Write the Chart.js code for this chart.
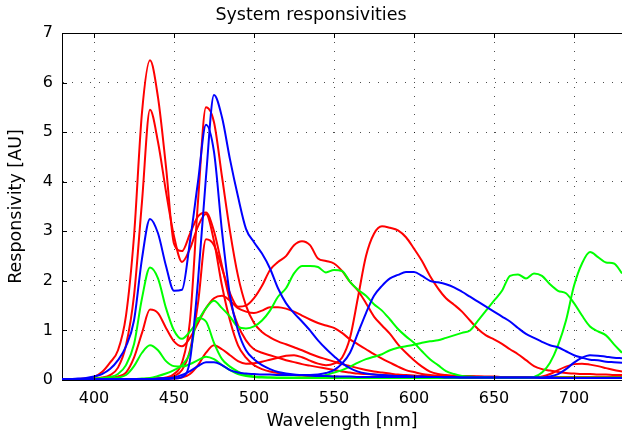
<!DOCTYPE html>
<html>
<head>
<meta charset="utf-8">
<script src="https://cdn.jsdelivr.net/npm/chart.js@4/dist/chart.umd.min.js"></script>
<style>
  body { margin: 0; background: #fff; }
  canvas { display: block; }
</style>
</head>
<body>
<canvas id="chart" width="622" height="435"></canvas>
<script>
// Wavelength grid (nm)
const wavelengths = [
  380, 385, 390, 395, 400, 405, 410, 415, 420, 425,
  430, 435, 440, 445, 450, 455, 460, 465, 470, 475,
  480, 485, 490, 495, 500, 505, 510, 515, 520, 525,
  530, 535, 540, 545, 550, 555, 560, 565, 570, 575,
  580, 585, 590, 595, 600, 605, 610, 615, 620, 625,
  630, 635, 640, 645, 650, 655, 660, 665, 670, 675,
  680, 685, 690, 695, 700, 705, 710, 715, 720, 725,
  730
];

const xTicks = [400, 450, 500, 550, 600, 650, 700];
const yTicks = [0, 1, 2, 3, 4, 5, 6, 7];

// Red channel responsivities
const red1 = [
  0.02, 0.02, 0.02, 0.03, 0.06, 0.16, 0.35, 0.6, 1.3, 2.9,
  5.4, 6.45, 5.7, 4.3, 2.75, 2.6, 2.95, 3.3, 3.38, 3.0,
  2.3, 1.6, 1.1, 0.8, 0.62, 0.55, 0.5, 0.45, 0.4, 0.36,
  0.32, 0.29, 0.26, 0.23, 0.2, 0.17, 0.15, 0.13, 0.12, 0.11,
  0.1, 0.09, 0.08, 0.08, 0.07, 0.07, 0.06, 0.06, 0.06, 0.05,
  0.05, 0.05, 0.05, 0.05, 0.05, 0.05, 0.05, 0.05, 0.05, 0.05,
  0.05, 0.05, 0.05, 0.05, 0.05, 0.05, 0.05, 0.05, 0.05, 0.05,
  0.05
];
const red2 = [
  0.02, 0.02, 0.02, 0.02, 0.03, 0.05, 0.1, 0.25, 0.7, 1.7,
  3.6, 5.45, 4.8, 3.8, 2.9, 2.38, 2.65, 3.1, 3.35, 2.8,
  1.9, 1.2, 0.7, 0.45, 0.3, 0.22, 0.17, 0.14, 0.12, 0.1,
  0.09, 0.08, 0.08, 0.07, 0.07, 0.06, 0.06, 0.06, 0.05, 0.05,
  0.05, 0.05, 0.05, 0.05, 0.05, 0.05, 0.05, 0.05, 0.05, 0.05,
  0.05, 0.05, 0.05, 0.05, 0.05, 0.05, 0.05, 0.05, 0.05, 0.05,
  0.07, 0.12, 0.2, 0.27, 0.32, 0.33, 0.31, 0.28, 0.24, 0.2,
  0.17
];
const red3 = [
  0.02, 0.02, 0.02, 0.02, 0.02, 0.03, 0.04, 0.07, 0.15, 0.45,
  0.95, 1.42, 1.35, 1.05, 0.78, 0.68, 0.85, 1.15, 1.45, 1.65,
  1.7, 1.6, 1.45, 1.38, 1.35, 1.4, 1.47, 1.47, 1.44, 1.38,
  1.3, 1.22, 1.15, 1.1, 1.05, 0.95, 0.82, 0.72, 0.62, 0.52,
  0.43, 0.35, 0.27, 0.2, 0.16, 0.12, 0.1, 0.09, 0.08, 0.08,
  0.07, 0.07, 0.07, 0.06, 0.06, 0.06, 0.06, 0.06, 0.06, 0.06,
  0.06, 0.06, 0.06, 0.06, 0.06, 0.06, 0.06, 0.06, 0.06, 0.06,
  0.06
];
const red4 = [
  0.02, 0.02, 0.02, 0.02, 0.02, 0.02, 0.02, 0.02, 0.02, 0.02,
  0.02, 0.03, 0.03, 0.05, 0.12, 0.35, 1.2, 3.6, 5.5, 5.2,
  4.1, 3.0, 2.1, 1.5, 1.15, 0.97, 0.86, 0.78, 0.72, 0.66,
  0.6, 0.53, 0.47, 0.42, 0.37, 0.32, 0.28, 0.24, 0.2, 0.17,
  0.15, 0.13, 0.11, 0.1, 0.09, 0.08, 0.08, 0.07, 0.07, 0.06,
  0.06, 0.06, 0.06, 0.06, 0.06, 0.06, 0.06, 0.06, 0.06, 0.06,
  0.06, 0.06, 0.06, 0.06, 0.06, 0.06, 0.06, 0.06, 0.06, 0.06,
  0.06
];
const red5 = [
  0.02, 0.02, 0.02, 0.02, 0.02, 0.02, 0.02, 0.02, 0.02, 0.02,
  0.02, 0.02, 0.03, 0.04, 0.08, 0.2, 0.6, 1.55, 2.84, 2.72,
  2.25, 1.75, 1.48, 1.5, 1.65, 1.9, 2.22, 2.38, 2.5, 2.72,
  2.8, 2.72, 2.45, 2.4, 2.35, 2.2, 1.98, 1.8, 1.55, 1.28,
  1.1, 0.93, 0.72, 0.55, 0.4, 0.27, 0.17, 0.12, 0.1, 0.09,
  0.08, 0.08, 0.07, 0.07, 0.07, 0.06, 0.06, 0.06, 0.06, 0.06,
  0.06, 0.06, 0.06, 0.06, 0.06, 0.06, 0.06, 0.06, 0.06, 0.06,
  0.06
];
const red6 = [
  0.02, 0.02, 0.02, 0.02, 0.02, 0.02, 0.02, 0.02, 0.02, 0.02,
  0.02, 0.02, 0.02, 0.03, 0.03, 0.05, 0.12, 0.3, 0.55, 0.7,
  0.62, 0.5, 0.38, 0.33, 0.34, 0.37, 0.41, 0.45, 0.49, 0.5,
  0.46, 0.39, 0.33, 0.3, 0.33, 0.45, 0.85, 1.67, 2.5, 2.95,
  3.1, 3.07, 3.02, 2.88, 2.65, 2.4, 2.1, 1.85, 1.65, 1.52,
  1.38, 1.2, 1.03, 0.9, 0.82, 0.73, 0.62, 0.52, 0.4, 0.28,
  0.22, 0.19, 0.16, 0.14, 0.13, 0.12, 0.12, 0.11, 0.11, 0.1,
  0.1
];

// Green channel responsivities
const green1 = [
  0.02, 0.02, 0.02, 0.02, 0.03, 0.04, 0.06, 0.12, 0.3, 0.72,
  1.65, 2.27, 2.05, 1.45, 1.0, 0.83, 0.98, 1.2, 1.45, 1.6,
  1.45, 1.28, 1.07, 1.04, 1.08, 1.2, 1.4, 1.68, 1.85, 2.15,
  2.3, 2.3, 2.28, 2.17, 2.22, 2.2, 1.98, 1.82, 1.7, 1.53,
  1.4, 1.22, 1.03, 0.88, 0.75, 0.58, 0.42, 0.3, 0.18, 0.12,
  0.08, 0.07, 0.06, 0.06, 0.05, 0.05, 0.05, 0.05, 0.05, 0.05,
  0.05, 0.05, 0.05, 0.05, 0.05, 0.05, 0.05, 0.05, 0.05, 0.05,
  0.05
];
const green2 = [
  0.02, 0.02, 0.02, 0.02, 0.02, 0.02, 0.03, 0.05, 0.1, 0.28,
  0.55, 0.7, 0.6, 0.38, 0.28, 0.27, 0.32, 0.4, 0.47, 0.42,
  0.3, 0.2, 0.12, 0.08, 0.06, 0.05, 0.05, 0.04, 0.04, 0.04,
  0.04, 0.04, 0.04, 0.04, 0.04, 0.04, 0.04, 0.04, 0.04, 0.04,
  0.04, 0.04, 0.04, 0.04, 0.04, 0.04, 0.04, 0.04, 0.04, 0.04,
  0.04, 0.04, 0.04, 0.04, 0.04, 0.04, 0.04, 0.04, 0.04, 0.06,
  0.15, 0.35, 0.7, 1.2, 1.9, 2.35, 2.58, 2.48, 2.37, 2.35,
  2.15
];
const green3 = [
  0.02, 0.02, 0.02, 0.02, 0.02, 0.02, 0.02, 0.02, 0.02, 0.02,
  0.03, 0.04, 0.08, 0.13, 0.2, 0.3, 0.55, 1.25, 1.18, 0.75,
  0.42, 0.27, 0.17, 0.1, 0.07, 0.06, 0.05, 0.05, 0.05, 0.05,
  0.05, 0.05, 0.06, 0.1, 0.15, 0.2, 0.27, 0.35, 0.42, 0.47,
  0.52, 0.6, 0.65, 0.68, 0.71, 0.75, 0.78, 0.8, 0.85, 0.9,
  0.95, 1.0, 1.2, 1.4, 1.6, 1.8, 2.1, 2.13, 2.05, 2.15,
  2.1, 1.93, 1.8, 1.75, 1.55, 1.3, 1.08, 0.98, 0.9, 0.72,
  0.55
];

// Blue channel responsivities
const blue1 = [
  0.02, 0.02, 0.03, 0.04, 0.07, 0.12, 0.22, 0.4, 0.68, 1.2,
  2.45, 3.25, 2.96, 2.3, 1.8, 1.82, 2.8, 4.0, 5.15, 4.6,
  3.0, 1.7, 1.0, 0.6, 0.42, 0.3, 0.22, 0.16, 0.13, 0.11,
  0.1, 0.09, 0.08, 0.08, 0.07, 0.07, 0.07, 0.06, 0.06, 0.06,
  0.06, 0.06, 0.06, 0.06, 0.06, 0.06, 0.06, 0.06, 0.06, 0.06,
  0.05, 0.05, 0.05, 0.05, 0.05, 0.05, 0.05, 0.05, 0.05, 0.05,
  0.05, 0.07, 0.12, 0.22, 0.35, 0.45, 0.5, 0.49, 0.47, 0.45,
  0.44
];
const blue2 = [
  0.02, 0.02, 0.02, 0.02, 0.02, 0.02, 0.02, 0.02, 0.02, 0.02,
  0.02, 0.02, 0.02, 0.02, 0.03, 0.06, 0.4, 2.0, 4.1, 5.75,
  5.3, 4.45, 3.7, 3.05, 2.78, 2.55, 2.25, 1.85, 1.55, 1.35,
  1.18, 1.0, 0.8, 0.63, 0.48, 0.34, 0.24, 0.17, 0.13, 0.11,
  0.1, 0.09, 0.08, 0.08, 0.07, 0.07, 0.06, 0.06, 0.05, 0.05,
  0.05, 0.05, 0.05, 0.05, 0.05, 0.05, 0.05, 0.05, 0.05, 0.05,
  0.04, 0.04, 0.04, 0.04, 0.04, 0.04, 0.04, 0.04, 0.04, 0.04,
  0.04
];
const blue3 = [
  0.02, 0.02, 0.02, 0.02, 0.02, 0.02, 0.02, 0.02, 0.02, 0.02,
  0.02, 0.02, 0.03, 0.04, 0.05, 0.1, 0.18, 0.28, 0.36, 0.36,
  0.3, 0.2, 0.15, 0.13, 0.12, 0.11, 0.11, 0.1, 0.1, 0.1,
  0.1, 0.1, 0.11, 0.14, 0.2, 0.33, 0.55, 0.95, 1.35, 1.7,
  1.9, 2.05, 2.12, 2.18, 2.18, 2.1, 2.0, 1.97, 1.93, 1.87,
  1.78, 1.68, 1.58, 1.48, 1.38, 1.28, 1.18, 1.05, 0.93, 0.85,
  0.77, 0.7, 0.66, 0.58, 0.5, 0.45, 0.41, 0.4, 0.37, 0.36,
  0.35
];

// blue first so it ends up drawn on top
const series = [
  { values: blue1, color: "#0000ff" },
  { values: blue2, color: "#0000ff" },
  { values: blue3, color: "#0000ff" },
  { values: green1, color: "#00ff00" },
  { values: green2, color: "#00ff00" },
  { values: green3, color: "#00ff00" },
  { values: red1, color: "#ff0000" },
  { values: red2, color: "#ff0000" },
  { values: red3, color: "#ff0000" },
  { values: red4, color: "#ff0000" },
  { values: red5, color: "#ff0000" },
  { values: red6, color: "#ff0000" }
];

const FONT = "'DejaVu Sans', sans-serif";

// MATLAB-style box: top edge plus inward tick marks
const frame = {
  id: "frame",
  afterDatasetsDraw(chart) {
    const { ctx, chartArea: a, scales: { x, y } } = chart;
    ctx.save();
    ctx.strokeStyle = "#000";
    ctx.lineWidth = 1;
    ctx.beginPath();
    ctx.moveTo(a.left, a.top + 0.5);
    ctx.lineTo(a.right, a.top + 0.5);
    xTicks.forEach(v => {
      const px = Math.round(x.getPixelForValue(v)) + 0.5;
      ctx.moveTo(px, a.bottom);
      ctx.lineTo(px, a.bottom - 5);
      ctx.moveTo(px, a.top);
      ctx.lineTo(px, a.top + 5);
    });
    yTicks.forEach(v => {
      const py = Math.round(y.getPixelForValue(v)) + 0.5;
      ctx.moveTo(a.left, py);
      ctx.lineTo(a.left + 5, py);
    });
    ctx.stroke();
    ctx.restore();
  }
};

new Chart(document.getElementById("chart"), {
  type: "line",
  data: {
    datasets: series.map(s => ({
      data: s.values.map((v, i) => ({ x: wavelengths[i], y: v })),
      borderColor: s.color,
      borderWidth: 2,
      pointRadius: 0,
      fill: false,
      cubicInterpolationMode: "monotone"
    }))
  },
  options: {
    responsive: false,
    animation: false,
    devicePixelRatio: 1,
    layout: { padding: { left: 0, right: 0, top: 0, bottom: 0 } },
    plugins: {
      legend: { display: false },
      tooltip: { enabled: false },
      title: {
        display: true,
        text: "System responsivities",
        color: "#000",
        font: { family: FONT, size: 17.5, weight: "normal" },
        padding: { top: 5, bottom: 7 }
      }
    },
    scales: {
      x: {
        type: "linear",
        min: 380,
        max: 730,
        afterBuildTicks: axis => { axis.ticks = xTicks.map(v => ({ value: v })); },
        afterFit: axis => { axis.height = 55; },
        ticks: {
          color: "#000",
          font: { family: FONT, size: 16 },
          padding: 9,
          maxRotation: 0,
          autoSkip: false
        },
        grid: { color: "rgba(0,0,0,0.7)", lineWidth: 1, drawTicks: false },
        border: { color: "#000", width: 1, dash: [1, 8] },
        title: {
          display: true,
          text: "Wavelength [nm]",
          color: "#000",
          font: { family: FONT, size: 17.5 },
          padding: { top: 0, bottom: 3 }
        }
      },
      y: {
        min: 0,
        max: 7,
        afterFit: axis => { axis.width = 62; },
        ticks: {
          stepSize: 1,
          color: "#000",
          font: { family: FONT, size: 16 },
          padding: 9
        },
        grid: { color: "rgba(0,0,0,0.7)", lineWidth: 1, drawTicks: false },
        border: { color: "#000", width: 1, dash: [1, 8] },
        title: {
          display: true,
          text: "Responsivity [AU]",
          color: "#000",
          font: { family: FONT, size: 17.5 },
          padding: { top: 6, bottom: 0 }
        }
      }
    }
  },
  plugins: [frame]
});
</script>
</body>
</html>
